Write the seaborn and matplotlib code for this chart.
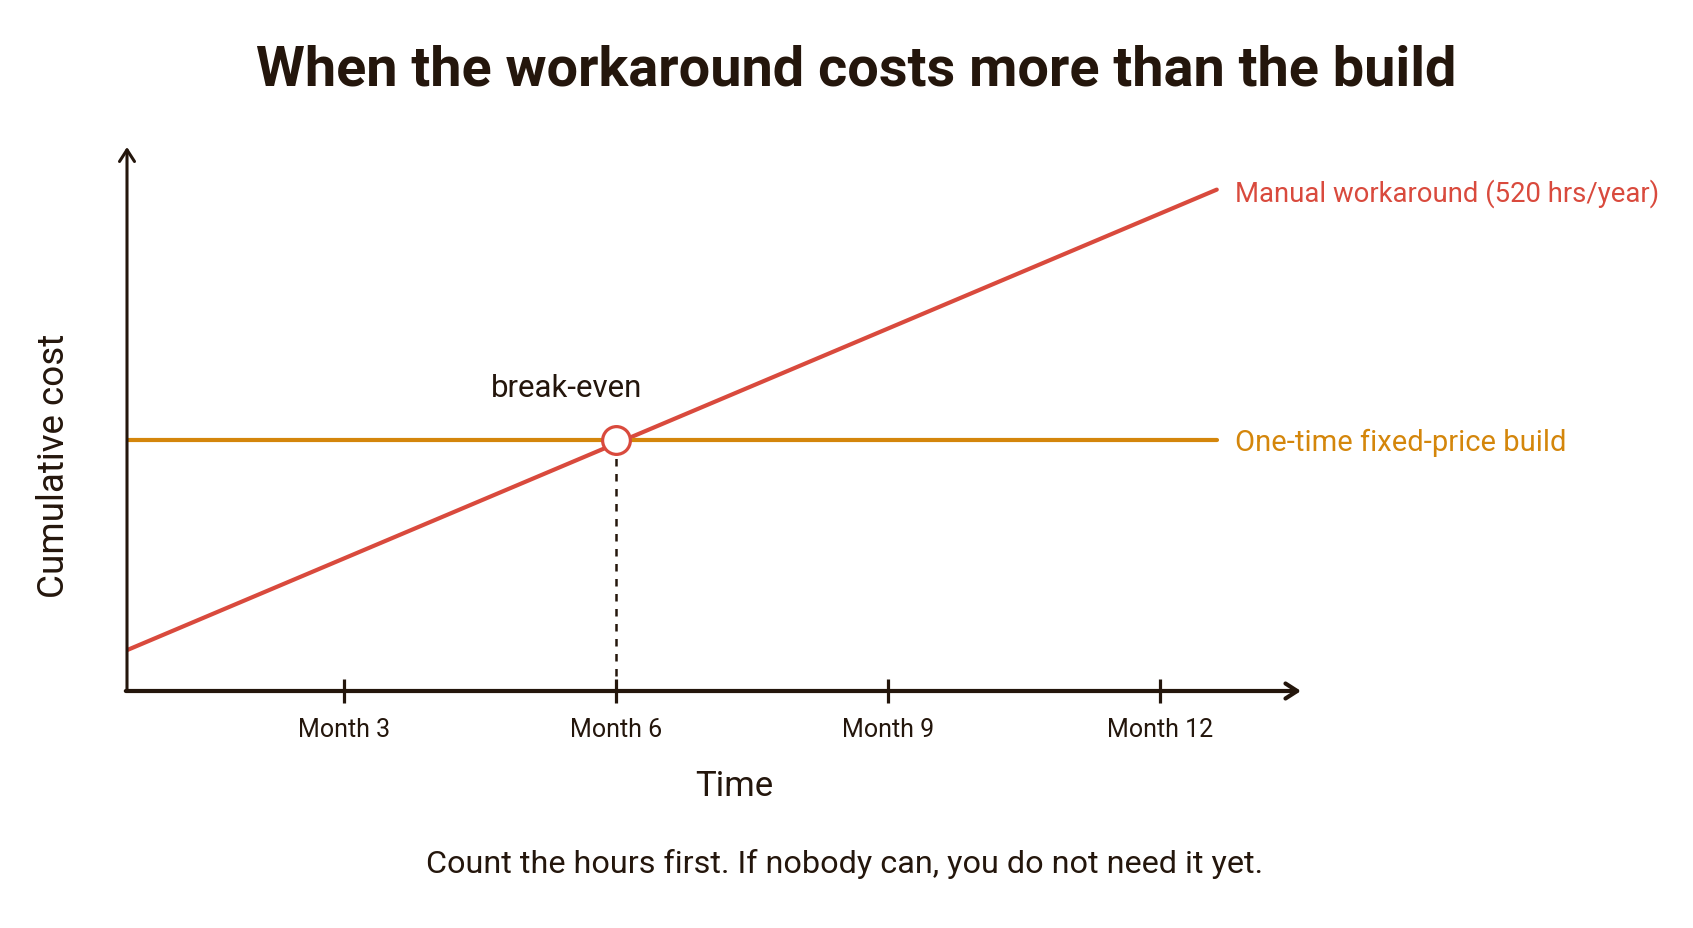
import matplotlib
matplotlib.use("Agg")
import matplotlib.pyplot as plt
import seaborn as sns
import pandas as pd

# ---- data ----
months = [0.6, 12.63]
workaround_cost = [16.3, 200.0]
build_cost = [100.0, 100.0]
break_even_month = [6.0]
break_even_cost = [100.0]
tick_months = [3, 6, 9, 12]
tick_labels = ["Month 3", "Month 6", "Month 9", "Month 12"]
series_names = ["Manual workaround (520 hrs/year)", "One-time fixed-price build"]

title = "When the workaround costs more than the build"
footnote = "Count the hours first. If nobody can, you do not need it yet."

RED = "#d94a3d"
ORANGE = "#d4860b"
DARK = "#24160c"

sns.set_theme(style="white")
plt.rcParams["font.family"] = ["Roboto", "DejaVu Sans"]

df = pd.DataFrame({
    "month": months + months,
    "cost": workaround_cost + build_cost,
    "series": [series_names[0]] * len(months) + [series_names[1]] * len(months),
})

fig = plt.figure(figsize=(16.93, 9.29), dpi=100)
fig.patch.set_facecolor("white")
ax = fig.add_axes([127 / 1693, 1 - 692 / 929, (1301 - 127) / 1693, (692 - 148) / 929])
ax.set_facecolor("white")

sns.lineplot(data=df, x="month", y="cost", hue="series",
             palette={series_names[0]: RED, series_names[1]: ORANGE},
             linewidth=3.0, legend=False, ax=ax, zorder=3)

ax.set_xlim(0.6, 13.56)
ax.set_ylim(0, 217)

# dashed guide at break-even
ax.vlines(break_even_month, 0, break_even_cost, colors=DARK, linestyles=(0, (3, 3)),
          linewidth=1.8, zorder=2)
# break-even marker
ax.plot(break_even_month, break_even_cost, marker="o", markersize=20,
        markerfacecolor="white", markeredgecolor=RED, markeredgewidth=2.3,
        linestyle="none", zorder=5)
ax.annotate("break-even", xy=(break_even_month[0], break_even_cost[0]),
            xytext=(-36, 38), textcoords="offset points", ha="center", va="center",
            fontsize=22.5, color=DARK)

# end labels
ax.annotate(series_names[0], xy=(months[-1], workaround_cost[-1]), xytext=(13, -2),
            textcoords="offset points", ha="left", va="center", fontsize=19.8,
            color=RED, annotation_clip=False)
ax.annotate(series_names[1], xy=(months[-1], build_cost[-1]), xytext=(13, -1),
            textcoords="offset points", ha="left", va="center", fontsize=21,
            color=ORANGE, annotation_clip=False)

# axes with arrows
for s in ax.spines.values():
    s.set_visible(False)
ax.annotate("", xy=(1.0, 0), xytext=(-0.001, 0), xycoords="axes fraction",
            arrowprops=dict(arrowstyle="->,head_length=0.7,head_width=0.45",
                            color=DARK, lw=3.0, shrinkA=0, shrinkB=0))
ax.annotate("", xy=(0, 1.0), xytext=(0, 0), xycoords="axes fraction",
            arrowprops=dict(arrowstyle="->,head_length=0.7,head_width=0.45",
                            color=DARK, lw=2.2, shrinkA=0, shrinkB=0))

ax.set_xticks(tick_months)
ax.set_xticklabels(tick_labels, fontsize=18, color=DARK)
ax.set_yticks([])
ax.tick_params(axis="x", direction="inout", length=17, width=2.3, color=DARK, pad=10,
               bottom=True)
ax.grid(False)

ax.set_xlabel("Time", fontsize=25, color=DARK)
ax.xaxis.set_label_coords((734 - 127) / 1174, -(786 - 692) / 544)
ax.xaxis.label.set_va("center")
ax.set_ylabel("Cumulative cost", fontsize=26.5, color=DARK)
ax.yaxis.set_label_coords((54 - 127) / 1174, (692 - 466) / 544)
ax.yaxis.label.set_va("center")

fig.text(856 / 1693, 1 - 71 / 929, title, ha="center", va="center",
         fontsize=40.2, fontweight="bold", color=DARK)
fig.text(845 / 1693, 1 - 864 / 929, footnote, ha="center", va="center",
         fontsize=23.3, color=DARK)

fig.savefig("out.png", dpi=100, facecolor="white")
